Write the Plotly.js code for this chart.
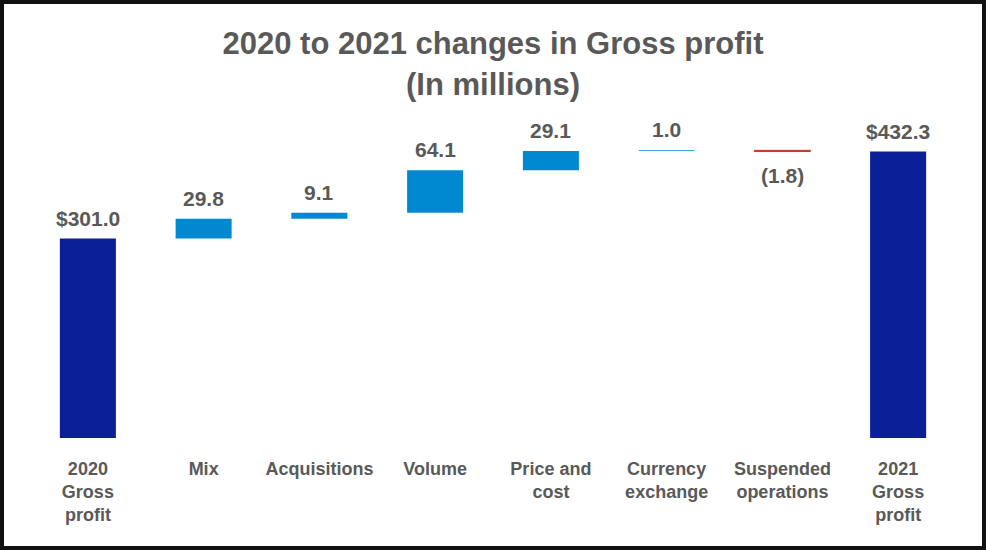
<!DOCTYPE html>
<html>
<head>
<meta charset="utf-8">
<script src="https://cdn.plot.ly/plotly-3.0.1.min.js"></script>
<style>
  html, body { margin: 0; padding: 0; background: #fff; }
  #wrap { position: relative; width: 986px; height: 550px; }
  #chart { position: absolute; left: 0; top: 0; width: 986px; height: 550px; }
  #frame { position: absolute; left: 0; top: 0; width: 986px; height: 550px; box-sizing: border-box;
           border: 4px solid #111; pointer-events: none; }
</style>
</head>
<body>
<div id="wrap">
  <div id="chart"></div>
  <div id="frame"></div>
</div>
<script>
const categories = ["2020<br>Gross<br>profit", "Mix", "Acquisitions", "Volume", "Price and<br>cost",
                    "Currency<br>exchange", "Suspended<br>operations", "2021<br>Gross<br>profit"];
const values = [301.0, 29.8, 9.1, 64.1, 29.1, 1.0, -1.8, 432.3];
const measures = ["absolute", "relative", "relative", "relative", "relative", "relative", "relative", "total"];
const valueLabels = ["$301.0", "29.8", "9.1", "64.1", "29.1", "1.0", "(1.8)", "$432.3"];

const FONT = "'Liberation Sans', Arial, Helvetica, sans-serif";
const GRAY = "#595959";

const trace = {
  type: "waterfall",
  x: categories,
  y: values,
  measure: measures,
  textposition: "none",
  cliponaxis: false,
  connector: { visible: false },
  increasing: { marker: { color: "#0088D1", line: { width: 0 } } },
  decreasing: { marker: { color: "#C23B22", line: { color: "#C23B22", width: 1 } } },
  totals: { marker: { color: "#0B1F98", line: { width: 0 } } },
  hoverinfo: "none"
};

// value labels placed at each bar's end, derived from the data
const annotations = [];
let running = 0;
for (let i = 0; i < values.length; i++) {
  let start, end;
  if (measures[i] === "absolute") { start = 0; end = values[i]; running = end; }
  else if (measures[i] === "total") { start = 0; end = running; }
  else { start = running; end = running + values[i]; running = end; }
  const up = end >= start;
  annotations.push({
    x: categories[i],
    y: up ? Math.max(start, end) : Math.min(start, end),
    xref: "x", yref: "y",
    text: valueLabels[i],
    showarrow: false,
    xanchor: "center",
    yanchor: up ? "bottom" : "top",
    yshift: up ? 7 : -10,
    font: { family: FONT, size: 21, color: GRAY, weight: "bold" }
  });
}

const layout = {
  width: 986,
  height: 550,
  paper_bgcolor: "#fff",
  plot_bgcolor: "#fff",
  margin: { l: 30, r: 30, t: 110, b: 112 },
  showlegend: false,
  waterfallgap: 0.516,
  title: {
    text: "2020 to 2021 changes in Gross profit<br>(In millions)",
    font: { family: FONT, size: 31, color: GRAY, weight: "bold" },
    x: 0.5, xanchor: "center",
    y: 0.901, yref: "container", yanchor: "top"
  },
  annotations: annotations,
  xaxis: {
    type: "category",
    showgrid: false, zeroline: false, showline: false,
    ticks: "outside", ticklen: 14, tickcolor: "rgba(0,0,0,0)",
    tickfont: { family: FONT, size: 18, color: GRAY, weight: "bold" },
    fixedrange: true
  },
  yaxis: {
    visible: false,
    range: [0, 495],
    showgrid: false, zeroline: false,
    fixedrange: true
  }
};

Plotly.newPlot("chart", [trace], layout, { displayModeBar: false, staticPlot: true });
</script>
</body>
</html>
